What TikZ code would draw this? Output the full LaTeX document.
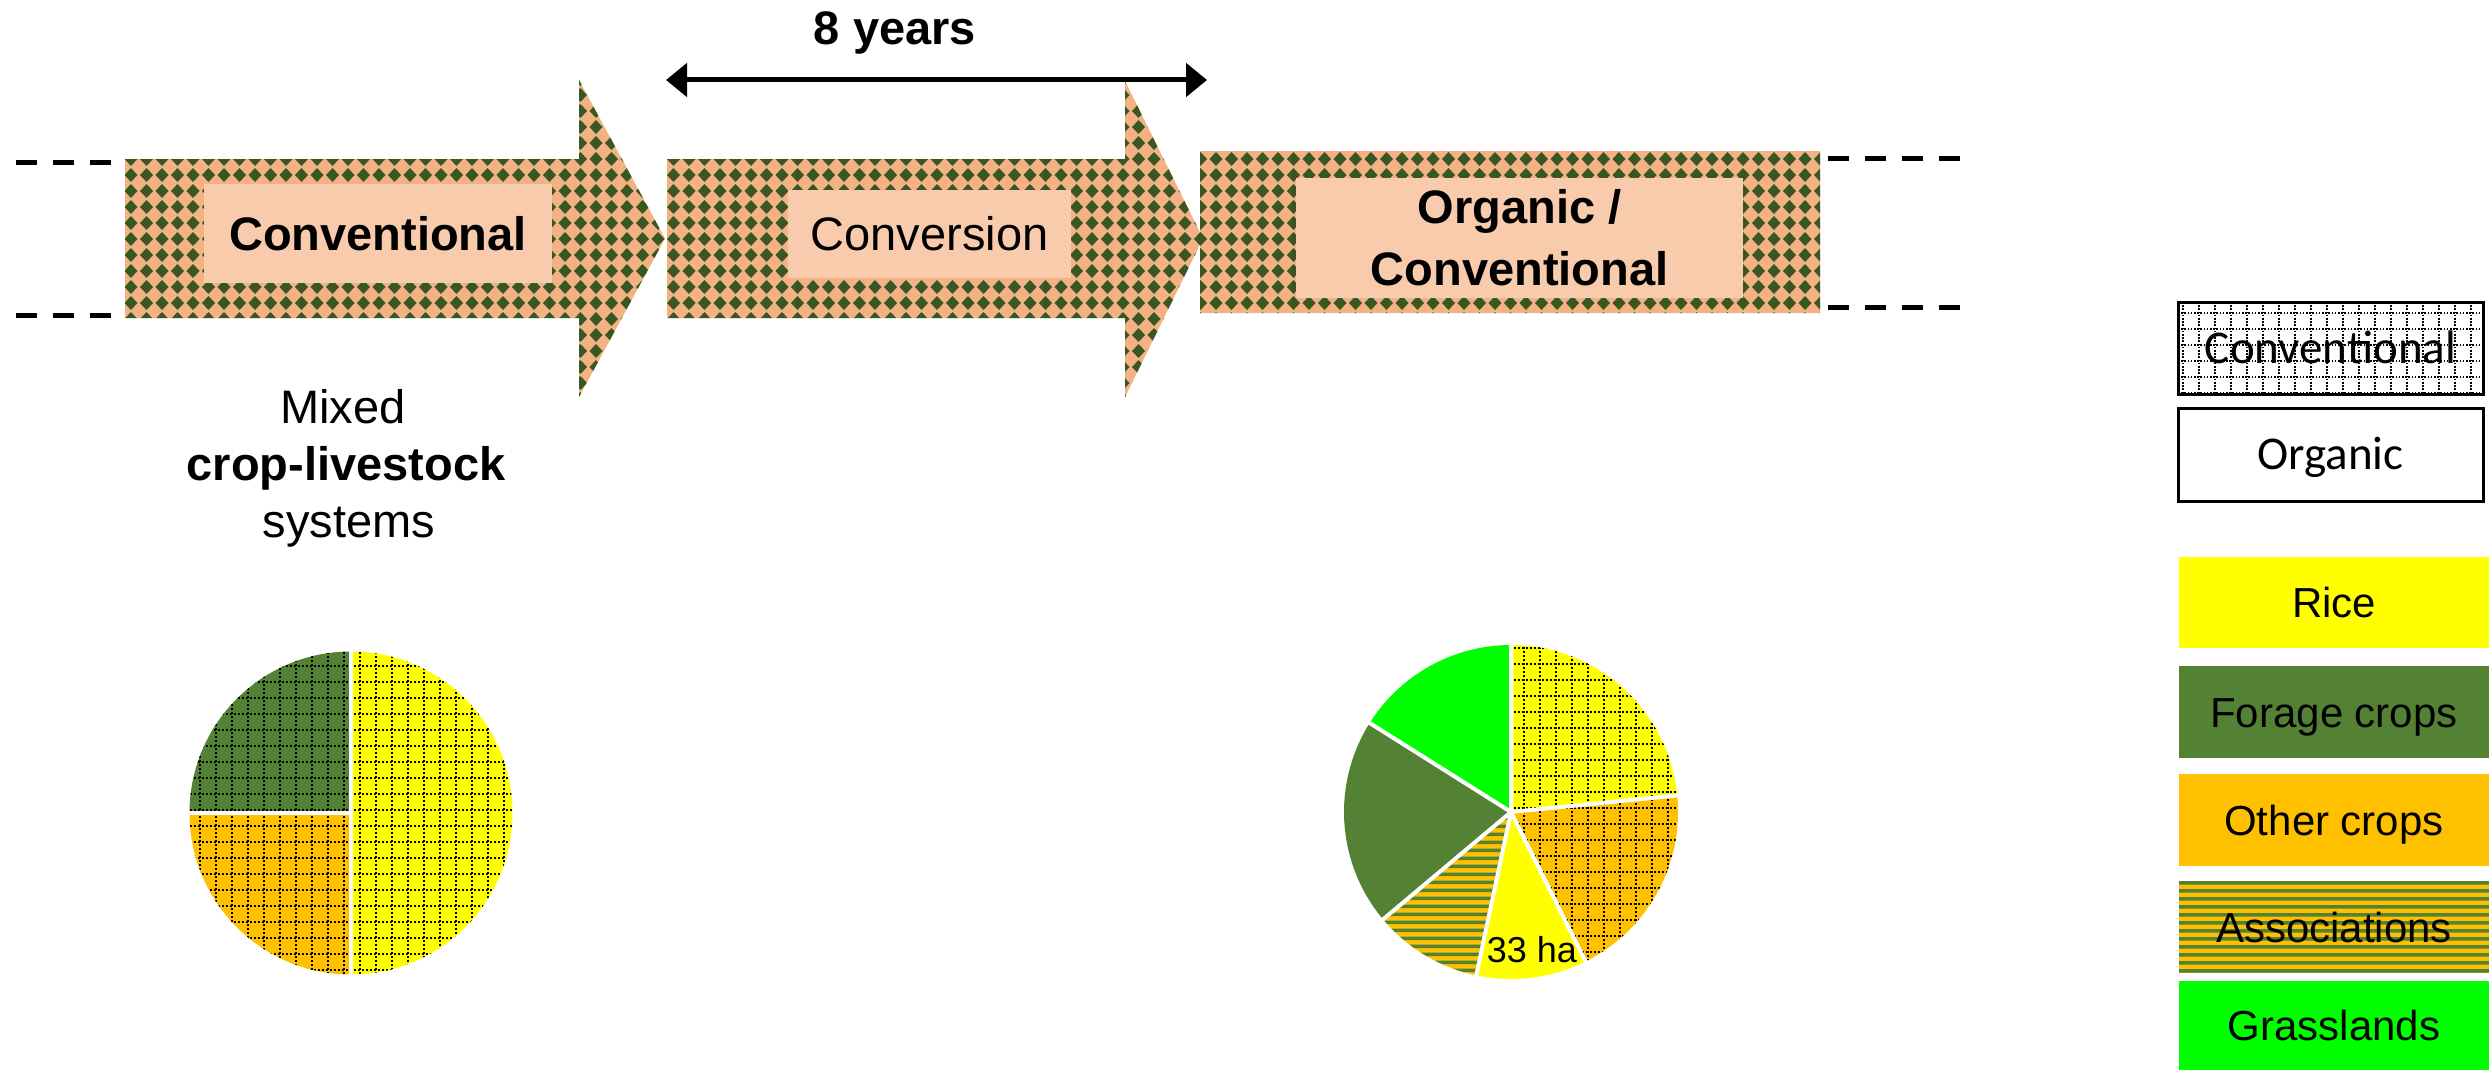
\documentclass[tikz,border=0pt]{standalone}
\usepackage{fontspec}
\setmainfont{Liberation Sans}
\newfontfamily\calibfont{Carlito}
\usetikzlibrary{arrows.meta}
\definecolor{peach}{HTML}{F4B183}
\definecolor{lpeach}{HTML}{F8CBAD}
\definecolor{dgreen}{HTML}{385723}
\definecolor{fgreen}{HTML}{548235}
\definecolor{ocrop}{HTML}{FFC000}
\definecolor{ricey}{HTML}{FFFF00}
\definecolor{grass}{HTML}{00FF00}
\newcommand\bigtxt{\fontsize{47pt}{57pt}\selectfont}
\newcommand\twotxt{\fontsize{47pt}{62pt}\selectfont}
\newcommand\legtxt{\fontsize{42pt}{50pt}\selectfont}
\newcommand\hatxt{\fontsize{36pt}{43pt}\selectfont}
\newcommand\caltxt{\calibfont\fontsize{47pt}{56pt}\selectfont}
\newcommand\dotgrid[2]{%
  \draw[gridln] foreach \k in {-12,...,12} {({#1+16*\k},-185) -- ({#1+16*\k},185)};
  \draw[gridln] foreach \k in {-12,...,12} {(-185,{#2+16*\k}) -- (185,{#2+16*\k})};}
\begin{document}
\begin{tikzpicture}[x=1pt,y=-1pt,
  dashln/.style={black, line width=5pt, dash pattern=on 21pt off 16pt},
  gridln/.style={black, line width=2pt, dash pattern=on 2pt off 2pt},
  lgridln/.style={black, line width=1.6pt, dash pattern=on 1.6pt off 1.6pt},
  sep/.style={white, line width=4pt},
  inbox/.style={fill=lpeach, inner sep=0pt},
  legbox/.style={minimum width=310pt, minimum height=91pt, inner sep=0pt, font=\legtxt, text height=30pt, text depth=0pt},
  calbox/.style={draw=black, line width=3pt, minimum width=305pt, inner sep=0pt, font=\caltxt, text height=30pt, text depth=0pt},
  tipa/.tip={Triangle[length=21pt,width=33pt]}]
\useasboundingbox (0,0) rectangle (2489,1070);
\fill[white] (0,0) rectangle (2489,1070);

% patterned arrows
\begin{scope}
  \clip (125,159) -- (579,159) -- (579,80) -- (665,238.5) -- (579,397) -- (579,318) -- (125,318) -- cycle
        (667,159) -- (1125,159) -- (1125,81) -- (1203,238.5) -- (1125,397) -- (1125,318) -- (667,318) -- cycle
        (1200,151) -- (1820,151) -- (1820,313) -- (1200,313) -- cycle;
  \fill[peach] (100,60) rectangle (1850,420);
  \fill[dgreen] foreach \i in {-1,...,110} { foreach \j in {-6,...,15}
     { ({131+15.5*\i},{159+16*\j}) +(-6.5,0) -- +(0,-7) -- +(6.5,0) -- +(0,7) -- cycle } };
\end{scope}

\node[inbox, minimum width=348pt, minimum height=99pt, font=\bigtxt\bfseries] (convbox) at (378,233.5) {Conventional};
\node[inbox, minimum width=283pt, minimum height=88pt, font=\bigtxt] (conversion) at (929.5,234) {Conversion};
\node[inbox, minimum width=447pt, minimum height=120pt] (orgbox) at (1519.5,238) {};
\node[font=\twotxt\bfseries, align=center, inner sep=0pt] (orgtxt) at (1519.5,237.5) {Organic /\\Conventional};

% dashed continuation lines
\coordinate (la1) at (16,162); \coordinate (lb1) at (112,162);
\coordinate (la2) at (16,315); \coordinate (lb2) at (112,315);
\coordinate (ra1) at (1828,158); \coordinate (rb1) at (1962,158);
\coordinate (ra2) at (1828,307); \coordinate (rb2) at (1962,307);
\draw[dashln] (la1) -- (lb1);
\draw[dashln] (la2) -- (lb2);
\draw[dashln] (ra1) -- (rb1);
\draw[dashln] (ra2) -- (rb2);

% 8 years
\coordinate (yl) at (666,80); \coordinate (yr) at (1207,80);
\draw[line width=5pt, tipa-tipa] (yl) -- (yr);
\node[font=\bigtxt\bfseries, anchor=base, inner sep=0pt] (yrs) at (895,45) {8 years};

% mixed systems
\node[font=\bigtxt, anchor=base, inner sep=0pt] (mix1) at (343,423) {Mixed};
\node[font=\bigtxt\bfseries, anchor=base, inner sep=0pt] (mix2) at (346,480) {crop-livestock};
\node[font=\bigtxt, anchor=base, inner sep=0pt] (mix3) at (349,537) {systems};

% pie 1
\begin{scope}[shift={(351,813)}, yscale=-1]
  \begin{scope}
    \clip (0,0) -- (-90:161.5) arc[start angle=-90,end angle=90,radius=161.5] -- cycle;
    \fill[ricey] (-180,-180) rectangle (180,180);
    \dotgrid{8.5}{3.3}
  \end{scope}
  \begin{scope}
    \clip (0,0) -- (90:161.5) arc[start angle=90,end angle=180,radius=161.5] -- cycle;
    \fill[fgreen] (-180,-180) rectangle (180,180);
    \dotgrid{8.5}{3.3}
  \end{scope}
  \begin{scope}
    \clip (0,0) -- (180:161.5) arc[start angle=180,end angle=270,radius=161.5] -- cycle;
    \fill[ocrop] (-180,-180) rectangle (180,180);
    \dotgrid{8.5}{3.3}
  \end{scope}
  \draw[sep] (90:163) -- (-90:163) (0,0) -- (180:163);
\end{scope}

% pie 2
\begin{scope}[shift={(1511,812)}, yscale=-1]
  \begin{scope}
    \clip (0,0) -- (5.7:167) arc[start angle=5.7,end angle=90,radius=167] -- cycle;
    \fill[ricey] (-180,-180) rectangle (180,180);
    \dotgrid{13}{4}
  \end{scope}
  \begin{scope}
    \clip (0,0) -- (-63.5:167) arc[start angle=-63.5,end angle=5.7,radius=167] -- cycle;
    \fill[ocrop] (-180,-180) rectangle (180,180);
    \dotgrid{13}{4}
  \end{scope}
  \fill[ricey] (0,0) -- (-102:167) arc[start angle=-102,end angle=-63.5,radius=167] -- cycle;
  \begin{scope}
    \clip (0,0) -- (-140:167) arc[start angle=-140,end angle=-102,radius=167] -- cycle;
    \fill[ocrop] (-180,-180) rectangle (180,180);
    \fill[fgreen] foreach \k in {-23,...,23} {(-180,{8*\k}) rectangle (180,{8*\k+3.5})};
  \end{scope}
  \fill[fgreen] (0,0) -- (147.8:167) arc[start angle=147.8,end angle=220,radius=167] -- cycle;
  \fill[grass] (0,0) -- (90:167) arc[start angle=90,end angle=147.8,radius=167] -- cycle;
  \draw[sep] (0,0) -- (90:169) (0,0) -- (5.7:169) (0,0) -- (-63.5:169) (0,0) -- (-102:169)
             (0,0) -- (-140:169) (0,0) -- (147.8:169);
\end{scope}
\node[font=\hatxt, anchor=base, inner sep=0pt] (ha) at (1532,962) {33 ha};

% legend
\begin{scope}
  \clip (2178,302) rectangle (2483,394);
  \fill[white] (2178,302) rectangle (2483,394);
  \draw[lgridln] foreach \k in {0,...,19} {({2183+16*\k},302) -- ({2183+16*\k},394)};
  \draw[lgridln] foreach \k in {0,...,5} {(2178,{313+16*\k}) -- (2483,{313+16*\k})};
\end{scope}
\node[calbox, minimum height=92pt] (lconv) at (2330.5,348) {Conventional};
\node[calbox, minimum height=93pt] (lorg) at (2330.5,454.5) {Organic};

\node[legbox, fill=ricey] (lrice) at (2334,602.5) {Rice};
\node[legbox, fill=fgreen, minimum height=92pt] (lforage) at (2334,712) {Forage crops};
\node[legbox, fill=ocrop, minimum height=92pt] (lother) at (2334,820) {Other crops};
\begin{scope}
  \clip (2179,881) rectangle (2489,973);
  \fill[ocrop] (2179,881) rectangle (2489,973);
  \fill[fgreen] foreach \k in {0,...,11} {(2179,{881+8*\k}) rectangle (2489,{884.5+8*\k})};
\end{scope}
\node[legbox, minimum height=92pt] (lassoc) at (2334,927) {Associations};
\node[legbox, fill=grass, minimum height=89pt] (lgrass) at (2334,1025.5) {Grasslands};
\end{tikzpicture}
\end{document}
